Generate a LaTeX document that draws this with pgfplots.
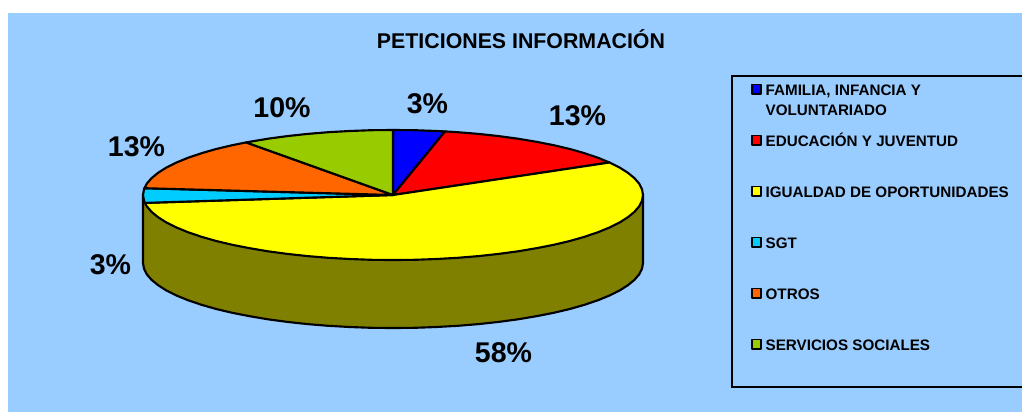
\documentclass[border=0pt]{standalone}
\usepackage{fontspec}
\setmainfont{Liberation Sans}
\usepackage{pgfplots}
\pgfplotsset{compat=1.18}
\definecolor{fondo}{HTML}{99CCFF}
\definecolor{lado}{HTML}{808000}
\definecolor{azul}{HTML}{0000FF}
\definecolor{rojo}{HTML}{FF0000}
\definecolor{amarillo}{HTML}{FFFF00}
\definecolor{celeste}{HTML}{00CCFF}
\definecolor{naranja}{HTML}{FF6600}
\definecolor{verde}{HTML}{99CC00}
\newcommand{\entrada}[1]{\makebox[230pt][l]{\hspace{2.6pt}#1}}
\begin{document}
\begin{tikzpicture}
\useasboundingbox (0,0) rectangle (766.5pt,309pt);
\begin{axis}[
  at={(0,0)},anchor=south west,
  scale only axis,
  width=766.5pt,height=309pt,
  xmin=0,xmax=1022,ymin=0,ymax=412,
  y dir=reverse,
  hide axis,
  clip=false,
  legend cell align=left,
  legend style={at={(axis cs:731,74.5)},anchor=north west,draw=black,line width=1.8pt,
    fill=none,inner xsep=14pt,inner ysep=1.875pt,row sep=0pt,font=\fontsize{11.4}{15}\selectfont\bfseries,
    nodes={inner sep=0pt,text height=13.15pt,text depth=25.1pt}},
  legend image code/.code={\draw[#1,line width=1.3pt,line join=round] (0pt,7.15pt) rectangle (7.2pt,14.35pt);},
  every axis plot/.append style={line width=1.6pt,line join=round,xshift=0.75pt},
]
% fondo
\addplot[fondo,fill=fondo,draw=none,forget plot] coordinates {(7,13) (1022,13) (1022,412) (7,412)} -- cycle;
% lado del pastel
\addplot[fill=lado,draw=black,forget plot] coordinates {
  (142,195) (142,263) (143.0,268.7) (145.8,274.3) (150.5,279.8) (157.1,285.2) (165.4,290.5)
  (175.5,295.5) (187.2,300.3) (200.5,304.8) (215.2,309.0) (231.3,312.8) (248.6,316.2)
  (267,319.3) (286.3,321.9) (306.5,324.1) (327.3,325.8) (348.6,327.0) (370.2,327.8) (392,328)
  (413.8,327.8) (435.4,327.0) (456.7,325.8) (477.5,324.1) (497.7,321.9) (517,319.3)
  (535.4,316.2) (552.7,312.8) (568.8,309.0) (583.5,304.8) (596.8,300.3) (608.5,295.5)
  (618.6,290.5) (626.9,285.2) (633.5,279.8) (638.2,274.3) (641.0,268.7) (642,263) (642,195)
} -- cycle;
% sectores
\addplot[fill=azul,draw=black] coordinates {
  (392,195) (392,130) (413.8,130.2) (435.4,131.0) (444.0,131.4)
} -- cycle;
\addlegendentry{\entrada{\vtop{\hbox{FAMILIA, INFANCIA Y}\hbox{VOLUNTARIADO}}}}
\addplot[fill=rojo,draw=black] coordinates {
  (392,195) (444.0,131.4) (456.7,132.2) (477.5,133.9) (497.7,136.1) (517,138.7) (535.4,141.8)
  (552.7,145.2) (568.8,149.0) (583.5,153.2) (596.8,157.7) (608.5,162.5)
} -- cycle;
\addlegendentry{\entrada{EDUCACIÓN Y JUVENTUD}}
\addplot[fill=amarillo,draw=black] coordinates {
  (392,195) (608.5,162.5) (618.6,167.5) (626.9,172.8) (633.5,178.2) (638.2,183.7) (641.0,189.3)
  (642,195) (641.0,200.7) (638.2,206.3) (633.5,211.8) (626.9,217.2) (618.6,222.5) (608.5,227.5)
  (596.8,232.3) (583.5,236.8) (568.8,241.0) (552.7,244.8) (535.4,248.2) (517,251.3) (497.7,253.9)
  (477.5,256.1) (456.7,257.8) (435.4,259.0) (413.8,259.8) (392,260) (370.2,259.8) (348.6,259.0)
  (327.3,257.8) (306.5,256.1) (286.3,253.9) (267,251.3) (248.6,248.2) (231.3,244.8) (215.2,241.0)
  (200.5,236.8) (187.2,232.3) (175.5,227.5) (165.4,222.5) (157.1,217.2) (150.5,211.8) (145.8,206.3)
  (143.9,202.9)
} -- cycle;
\addlegendentry{\entrada{IGUALDAD DE OPORTUNIDADES}}
\addplot[fill=celeste,draw=black] coordinates {
  (392,195) (143.9,202.9) (143.0,200.7) (142,195) (143.0,189.3) (143.4,188.2)
} -- cycle;
\addlegendentry{\entrada{SGT}}
\addplot[fill=naranja,draw=black] coordinates {
  (392,195) (143.4,188.2) (145.8,183.7) (150.5,178.2) (157.1,172.8) (165.4,167.5) (175.5,162.5)
  (187.2,157.7) (200.5,153.2) (215.2,149.0) (231.3,145.2) (245.1,142.4)
} -- cycle;
\addlegendentry{\entrada{OTROS}}
\addplot[fill=verde,draw=black] coordinates {
  (392,195) (245.1,142.4) (248.6,141.8) (267,138.7) (286.3,136.1) (306.5,133.9) (327.3,132.2)
  (348.6,131.0) (370.2,130.2) (392,130)
} -- cycle;
\addlegendentry{\entrada{SERVICIOS SOCIALES}}
% textos
\node[font=\fontsize{16}{18}\selectfont\bfseries] at (axis cs:521,39) {PETICIONES INFORMACIÓN};
\begin{scope}[every node/.style={font=\fontsize{21.4}{24}\selectfont\bfseries}]
\node at (axis cs:427.5,104) {3\%};
\node at (axis cs:577.5,116) {13\%};
\node at (axis cs:282,108) {10\%};
\node at (axis cs:136.5,147) {13\%};
\node at (axis cs:110.5,265) {3\%};
\node at (axis cs:503.5,353) {58\%};
\end{scope}
\end{axis}
\end{tikzpicture}
\end{document}
